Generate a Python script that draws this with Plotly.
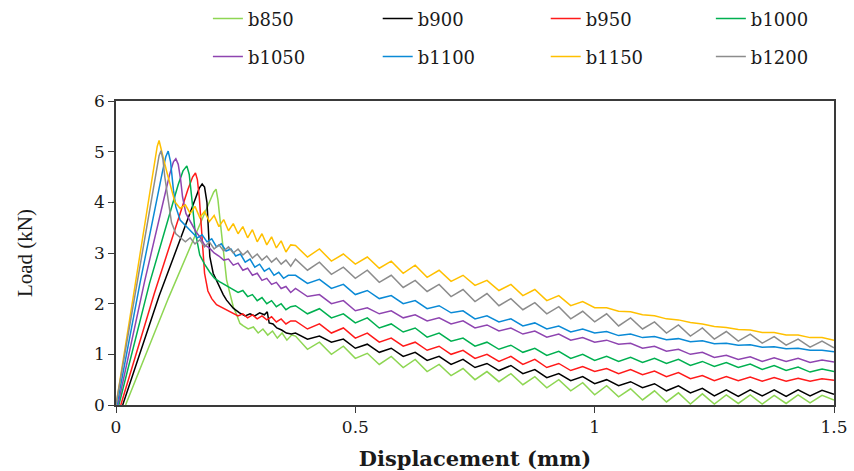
import plotly.graph_objects as go

# ---------------- data ----------------
SERIES = ["b850", "b900", "b950", "b1000", "b1050", "b1100", "b1150", "b1200"]
COLORS = ["#8ED653", "#000000", "#FF1A1A", "#00B050", "#8E44B0", "#0A8AD6", "#FFC000", "#8C8C8C"]

# common displacement grid of the descending tail (mm)
TAIL_X = [0.375, 0.4, 0.425, 0.45, 0.475, 0.5, 0.525, 0.55, 0.575, 0.6, 0.625, 0.65,
          0.675, 0.7, 0.725, 0.75, 0.775, 0.8, 0.825, 0.85, 0.875, 0.9, 0.925, 0.95,
          0.975, 1.0, 1.025, 1.05, 1.075, 1.1, 1.125, 1.15, 1.175, 1.2, 1.225, 1.25,
          1.275, 1.3, 1.325, 1.35, 1.375, 1.4, 1.425, 1.45, 1.475, 1.5]

# b850
b850_head_x = [0.02, 0.11, 0.195, 0.204, 0.209, 0.213, 0.218, 0.224, 0.231, 0.238, 0.245, 0.252,
               0.259, 0.266, 0.276, 0.287, 0.297, 0.307, 0.317, 0.327, 0.337, 0.347, 0.357, 0.367]
b850_head_y = [0.0, 2.12, 4.0, 4.2, 4.26, 4.05, 3.6, 3.06, 2.47, 2.2, 1.94, 1.78,
               1.61, 1.56, 1.5, 1.54, 1.42, 1.5, 1.38, 1.46, 1.32, 1.42, 1.28, 1.38]
b850_tail_y = [1.36, 1.1, 1.24, 1.0, 1.16, 0.92, 1.02, 0.8, 0.96, 0.74,
               0.9, 0.66, 0.8, 0.58, 0.72, 0.5, 0.66, 0.46, 0.62, 0.4,
               0.56, 0.34, 0.5, 0.28, 0.44, 0.2, 0.38, 0.16, 0.32, 0.1,
               0.28, 0.06, 0.24, 0.02, 0.22, 0.02, 0.2, 0.03, 0.2, 0.02,
               0.19, 0.03, 0.2, 0.04, 0.19, 0.1]

# b900
b900_head_x = [0.014, 0.09, 0.165, 0.174, 0.18, 0.185, 0.19, 0.196, 0.203, 0.21, 0.217, 0.224,
               0.231, 0.245, 0.258, 0.27, 0.28, 0.29, 0.3, 0.31, 0.316, 0.32, 0.328, 0.336,
               0.346, 0.356, 0.366]
b900_head_y = [0.0, 2.15, 4.05, 4.28, 4.36, 4.3, 4.0, 2.93, 2.6, 2.45, 2.33, 2.18,
               2.07, 1.91, 1.82, 1.76, 1.8, 1.76, 1.82, 1.78, 1.84, 1.62, 1.6, 1.52,
               1.48, 1.42, 1.4]
b900_tail_y = [1.42, 1.3, 1.36, 1.24, 1.3, 1.12, 1.2, 1.04, 1.12, 0.96,
               1.04, 0.88, 0.96, 0.8, 0.9, 0.74, 0.82, 0.68, 0.78, 0.62,
               0.7, 0.54, 0.62, 0.48, 0.56, 0.42, 0.5, 0.38, 0.46, 0.34,
               0.42, 0.28, 0.38, 0.24, 0.33, 0.18, 0.3, 0.17, 0.3, 0.18,
               0.3, 0.17, 0.3, 0.18, 0.29, 0.21]

# b950
b950_head_x = [0.01, 0.08, 0.15, 0.16, 0.166, 0.17, 0.174, 0.179, 0.185, 0.192, 0.2, 0.21,
               0.22, 0.232, 0.245, 0.255, 0.265, 0.275, 0.285, 0.295, 0.305, 0.315, 0.325,
               0.335, 0.345, 0.355, 0.365]
b950_head_y = [0.0, 2.2, 4.25, 4.5, 4.58, 4.45, 4.1, 3.45, 2.6, 2.25, 2.1, 1.98,
               1.93, 1.88, 1.82, 1.76, 1.8, 1.72, 1.78, 1.7, 1.76, 1.68, 1.74,
               1.64, 1.7, 1.6, 1.66]
b950_tail_y = [1.66, 1.5, 1.6, 1.42, 1.52, 1.32, 1.42, 1.24, 1.32, 1.16,
               1.24, 1.08, 1.16, 1.0, 1.08, 0.92, 1.0, 0.86, 0.96, 0.8,
               0.9, 0.74, 0.82, 0.68, 0.76, 0.66, 0.72, 0.62, 0.7, 0.6,
               0.67, 0.56, 0.64, 0.52, 0.58, 0.48, 0.56, 0.48, 0.55, 0.47,
               0.54, 0.47, 0.53, 0.47, 0.52, 0.49]

# b1000
b1000_head_x = [0.006, 0.07, 0.13, 0.14, 0.148, 0.153, 0.158, 0.165, 0.175, 0.185, 0.196,
                0.206, 0.217, 0.23, 0.245, 0.255, 0.265, 0.275, 0.285, 0.295, 0.305, 0.315,
                0.325, 0.335, 0.345, 0.355, 0.365]
b1000_head_y = [0.0, 2.4, 4.35, 4.62, 4.72, 4.55, 4.11, 3.45, 2.96, 2.78, 2.62,
                2.5, 2.43, 2.36, 2.28, 2.22, 2.26, 2.14, 2.18, 2.06, 2.12, 2.0,
                2.06, 1.94, 2.0, 1.88, 1.94]
b1000_tail_y = [1.96, 1.8, 1.9, 1.72, 1.8, 1.62, 1.72, 1.52, 1.6, 1.44,
                1.52, 1.34, 1.42, 1.26, 1.32, 1.16, 1.24, 1.1, 1.18, 1.04,
                1.12, 0.98, 1.06, 0.92, 1.0, 0.88, 0.96, 0.86, 0.94, 0.84,
                0.92, 0.82, 0.9, 0.78, 0.86, 0.76, 0.84, 0.74, 0.81, 0.7,
                0.78, 0.68, 0.75, 0.65, 0.71, 0.66]

# b1050
b1050_head_x = [0.004, 0.06, 0.112, 0.12, 0.125, 0.13, 0.135, 0.139, 0.146, 0.157, 0.167,
                0.175, 0.185, 0.195, 0.205, 0.215, 0.225, 0.235, 0.245, 0.255, 0.265,
                0.275, 0.285, 0.295, 0.305, 0.315, 0.325, 0.335, 0.345, 0.355, 0.365]
b1050_head_y = [0.0, 2.45, 4.55, 4.8, 4.86, 4.75, 4.45, 4.11, 3.78, 3.59, 3.42,
                3.32, 3.16, 3.1, 3.0, 2.94, 2.86, 2.88, 2.76, 2.8, 2.66,
                2.7, 2.56, 2.6, 2.46, 2.5, 2.38, 2.42, 2.3, 2.34, 2.22]
b1050_tail_y = [2.3, 2.14, 2.18, 2.0, 2.06, 1.86, 1.92, 1.8, 1.86, 1.72,
                1.78, 1.66, 1.72, 1.6, 1.66, 1.52, 1.58, 1.46, 1.52, 1.4,
                1.46, 1.34, 1.4, 1.28, 1.33, 1.24, 1.28, 1.2, 1.22, 1.12,
                1.16, 1.06, 1.1, 1.0, 1.04, 0.94, 0.98, 0.9, 0.95, 0.86,
                0.93, 0.86, 0.92, 0.84, 0.89, 0.85]

# b1100
b1100_head_x = [0.002, 0.05, 0.097, 0.104, 0.109, 0.114, 0.12, 0.125, 0.134, 0.148, 0.16,
                0.17, 0.18, 0.19, 0.2, 0.21, 0.22, 0.23, 0.24, 0.25, 0.26, 0.27, 0.28,
                0.29, 0.3, 0.31, 0.32, 0.33, 0.34, 0.35, 0.36]
b1100_head_y = [0.0, 2.4, 4.6, 4.9, 5.01, 4.8, 4.24, 3.91, 3.65, 3.52, 3.4,
                3.3, 3.36, 3.22, 3.28, 3.12, 3.18, 3.04, 3.08, 2.94, 2.98, 2.82, 2.88,
                2.72, 2.78, 2.64, 2.7, 2.56, 2.62, 2.5, 2.56]
b1100_tail_y = [2.56, 2.4, 2.48, 2.3, 2.38, 2.18, 2.26, 2.1, 2.16, 2.0,
                2.06, 1.9, 1.96, 1.82, 1.86, 1.7, 1.76, 1.64, 1.7, 1.56,
                1.62, 1.5, 1.56, 1.44, 1.5, 1.42, 1.45, 1.37, 1.4, 1.33,
                1.35, 1.29, 1.31, 1.25, 1.27, 1.21, 1.22, 1.18, 1.19, 1.14,
                1.15, 1.11, 1.12, 1.08, 1.08, 1.05]

# b1150
b1150_head_x = [0.0, 0.045, 0.08, 0.086, 0.09, 0.095, 0.1, 0.107, 0.116, 0.123, 0.134,
                0.145, 0.155, 0.165, 0.175, 0.185, 0.195, 0.205, 0.215, 0.225, 0.235,
                0.245, 0.255, 0.265, 0.275, 0.285, 0.295, 0.305, 0.315, 0.325, 0.335,
                0.345, 0.355, 0.365]
b1150_head_y = [0.0, 2.7, 4.75, 5.1, 5.22, 5.05, 4.83, 4.57, 4.24, 4.01, 3.88,
                3.95, 3.78, 3.92, 3.7, 3.82, 3.62, 3.74, 3.52, 3.66, 3.44,
                3.58, 3.38, 3.52, 3.3, 3.46, 3.22, 3.38, 3.16, 3.32, 3.1,
                3.24, 3.02, 3.16]
b1150_tail_y = [3.15, 2.92, 3.08, 2.84, 2.98, 2.78, 2.92, 2.7, 2.84, 2.6,
                2.76, 2.52, 2.66, 2.44, 2.56, 2.36, 2.46, 2.26, 2.38, 2.16,
                2.28, 2.06, 2.16, 1.96, 2.04, 1.92, 1.92, 1.85, 1.84, 1.78,
                1.76, 1.7, 1.68, 1.63, 1.6, 1.55, 1.53, 1.49, 1.48, 1.43,
                1.43, 1.38, 1.38, 1.33, 1.33, 1.28]

# b1200
b1200_head_x = [0.0, 0.045, 0.083, 0.09, 0.094, 0.098, 0.102, 0.108, 0.116, 0.125, 0.134,
                0.145, 0.155, 0.165, 0.175, 0.185, 0.195, 0.205, 0.215, 0.225, 0.235,
                0.245, 0.255, 0.265, 0.275, 0.285, 0.295, 0.305, 0.315, 0.325, 0.335,
                0.345, 0.355, 0.365]
b1200_head_y = [0.0, 2.5, 4.55, 4.92, 5.02, 4.85, 4.5, 4.1, 3.6, 3.38, 3.3,
                3.22, 3.3, 3.18, 3.26, 3.12, 3.22, 3.08, 3.16, 3.04, 3.12,
                3.0, 3.08, 2.96, 3.04, 2.9, 2.98, 2.86, 2.94, 2.82, 2.9,
                2.78, 2.86, 2.74]
b1200_tail_y = [2.88, 2.66, 2.82, 2.58, 2.72, 2.5, 2.66, 2.42, 2.56, 2.32,
                2.46, 2.24, 2.38, 2.14, 2.28, 2.04, 2.2, 1.96, 2.1, 1.88,
                2.02, 1.8, 1.94, 1.7, 1.85, 1.64, 1.8, 1.56, 1.72, 1.5,
                1.64, 1.42, 1.58, 1.36, 1.52, 1.3, 1.45, 1.26, 1.4, 1.22,
                1.35, 1.18, 1.3, 1.14, 1.26, 1.13]

HEADS_X = [b850_head_x, b900_head_x, b950_head_x, b1000_head_x,
           b1050_head_x, b1100_head_x, b1150_head_x, b1200_head_x]
HEADS_Y = [b850_head_y, b900_head_y, b950_head_y, b1000_head_y,
           b1050_head_y, b1100_head_y, b1150_head_y, b1200_head_y]
TAILS_Y = [b850_tail_y, b900_tail_y, b950_tail_y, b1000_tail_y,
           b1050_tail_y, b1100_tail_y, b1150_tail_y, b1200_tail_y]

X_TICKS = [0, 0.5, 1, 1.5]
X_TICK_TEXT = ["0", "0.5", "1", "1.5"]
Y_TICKS = [0, 1, 2, 3, 4, 5, 6]

# ---------------- figure ----------------
SERIF_WIDE = "DejaVu Serif, serif"
SERIF = "Liberation Serif, Times New Roman, serif"
INK = "#1a1a1a"

fig = go.Figure()
legend_ids = ["legend"] + ["legend%d" % i for i in range(2, 9)]
for i, (name, col, hx, hy, ty) in enumerate(zip(SERIES, COLORS, HEADS_X, HEADS_Y, TAILS_Y)):
    fig.add_trace(go.Scatter(
        x=hx + TAIL_X, y=hy + ty, mode="lines", name=name,
        line=dict(color=col, width=1.5), legend=legend_ids[i],
    ))

axis_common = dict(showline=True, linecolor="#3a3a3a", linewidth=1.5, mirror=True,
                   showgrid=False, zeroline=False, ticks="outside", ticklen=6,
                   tickcolor="#3a3a3a", tickwidth=1.3, ticklabeloverflow="allow",
                   tickfont=dict(family=SERIF_WIDE, size=17, color=INK))

fig.update_xaxes(range=[0, 1.5], tickvals=X_TICKS, ticktext=X_TICK_TEXT,
                 title=dict(text="<b>Displacement (mm)</b>",
                            font=dict(family=SERIF_WIDE, size=21, color=INK), standoff=16),
                 **axis_common)
fig.update_yaxes(range=[0, 6], tickvals=Y_TICKS,
                 title=dict(text="Load (kN)",
                            font=dict(family=SERIF, size=21, color=INK), standoff=56),
                 **axis_common)

# legend: 4 columns x 2 rows above the plot
col_x = [0.128, 0.3645, 0.5985, 0.8285]
row_y = [1.27, 1.145]
layout_legends = {}
for i, lid in enumerate(legend_ids):
    layout_legends[lid] = dict(
        x=col_x[i % 4], xanchor="left", y=row_y[i // 4], yanchor="middle",
        orientation="h", bgcolor="rgba(0,0,0,0)",
        font=dict(family=SERIF_WIDE, size=18, color=INK),
    )

fig.update_layout(
    width=854, height=471,
    margin=dict(l=116, r=20, t=101, b=66, autoexpand=False),
    paper_bgcolor="white", plot_bgcolor="white",
    showlegend=True,
    **layout_legends,
)

fig.write_html("out.html", config={"displayModeBar": False},
               post_script="document.body.style.margin='0px';")
